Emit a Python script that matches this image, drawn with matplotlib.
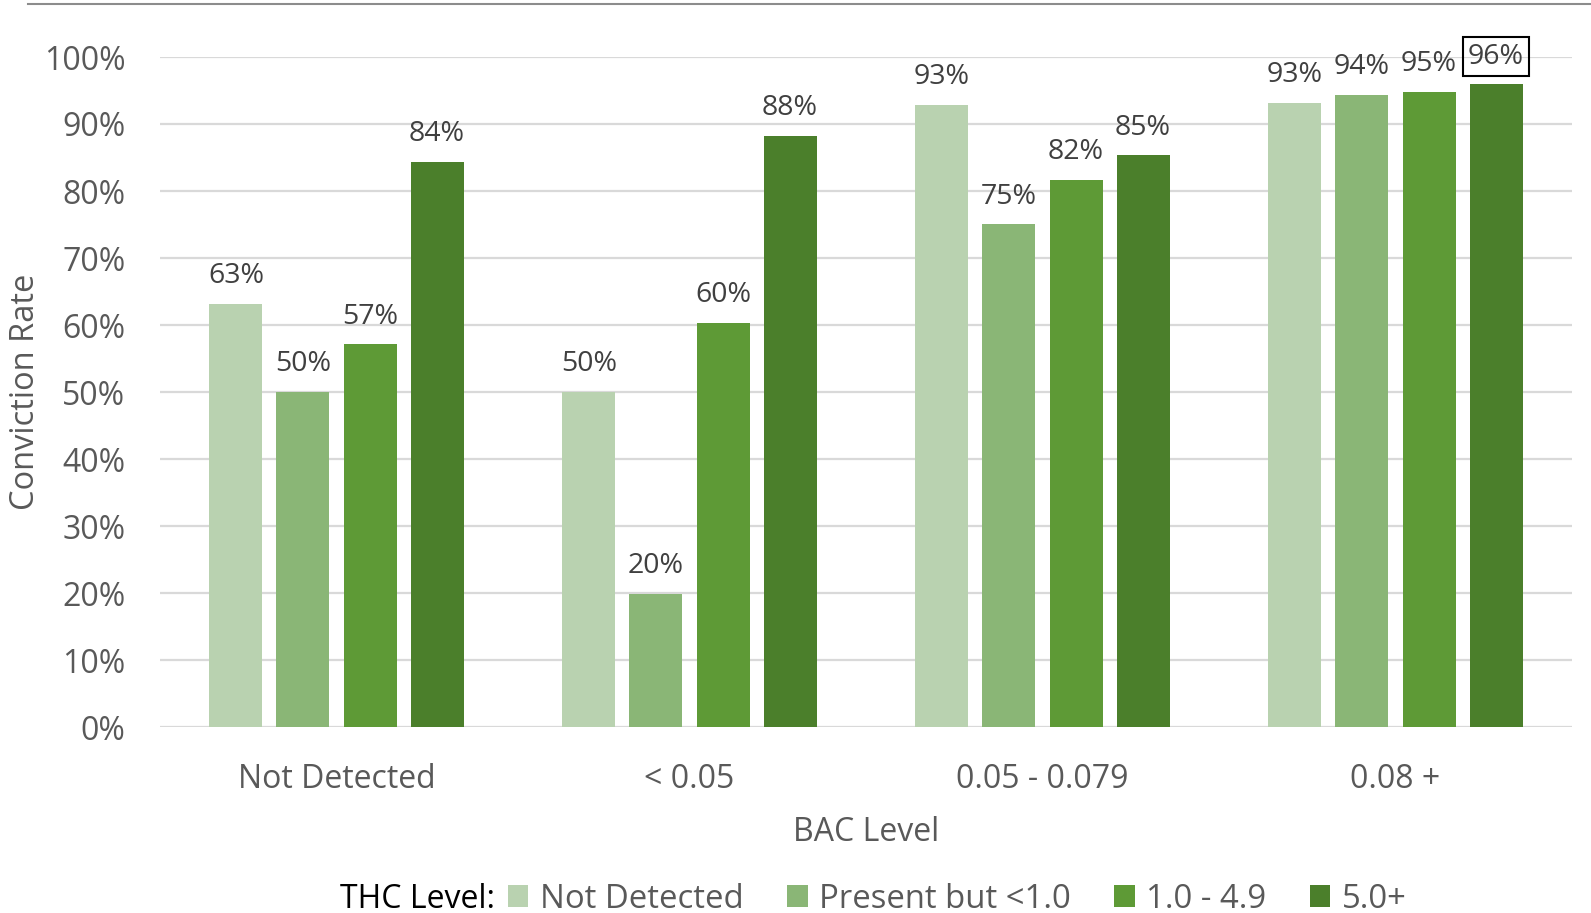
import matplotlib
matplotlib.use("Agg")
import matplotlib.pyplot as plt
from matplotlib.lines import Line2D
from matplotlib.patches import Patch
import numpy as np

plt.rcParams['font.family'] = ['Open Sans', 'DejaVu Sans']

bac_levels = ["Not Detected", "< 0.05", "0.05 - 0.079", "0.08 +"]
thc_levels = ["Not Detected", "Present but <1.0", "1.0 - 4.9", "5.0+"]

# conviction rate (%) by BAC level, one list per THC level
thc_not_detected = [63.1, 50.0, 92.9, 93.2]
thc_present_lt1 = [50.0, 19.9, 75.0, 94.4]
thc_1_to_4_9 = [57.1, 60.3, 81.7, 94.8]
thc_5_plus = [84.3, 88.2, 85.3, 95.9]

yticks = [0, 10, 20, 30, 40, 50, 60, 70, 80, 90, 100]
colors = ["#B9D2B0", "#8AB676", "#5E9A36", "#4B7F2B"]

series = [thc_not_detected, thc_present_lt1, thc_1_to_4_9, thc_5_plus]

W, H = 1591, 913
fig = plt.figure(figsize=(W / 100, H / 100), dpi=100)
ax = fig.add_axes([160 / W, 1 - 727 / H, (1572 - 160) / W, (727 - 57) / H])

x = np.arange(len(bac_levels))
step = 0.19
width = 0.15
offsets = (np.arange(4) - 1.5) * step

for i, (vals, col) in enumerate(zip(series, colors)):
    bars = ax.bar(x + offsets[i], vals, width=width, color=col, zorder=3)
    for j, (b, v) in enumerate(zip(bars, vals)):
        boxed = (i == 3 and j == 3)
        ax.annotate(f"{v:.0f}%", (b.get_x() + b.get_width() / 2, v),
                    xytext=(0, 10), textcoords="offset points",
                    ha="center", va="bottom", fontsize=20.5, color="#404040",
                    annotation_clip=False, zorder=4,
                    bbox=dict(boxstyle="square,pad=0.18", fc="none", ec="black", lw=1.5) if boxed else None)

ax.set_xlim(-0.5, 3.5)
ax.set_ylim(0, 100)
ax.set_yticks(yticks)
ax.set_yticklabels([f"{t}%" for t in yticks])
ax.set_xticks(x)
ax.set_xticklabels(bac_levels)
ax.grid(axis="y", color="#D9D9D9", linewidth=1.6, zorder=0)
ax.set_axisbelow(True)
for s in ax.spines.values():
    s.set_visible(False)
ax.tick_params(axis="both", length=0, labelsize=23, labelcolor="#595959")
ax.tick_params(axis="y", pad=25)
ax.tick_params(axis="x", pad=26)

ax.set_xlabel("BAC Level", fontsize=23, color="#595959", labelpad=14)
fig.text(26 / W, 1 - 392 / H, "Conviction Rate", fontsize=23.5, color="#595959",
         rotation=90, ha="center", va="center")

# thin rule across the top of the chart
fig.add_artist(Line2D([28 / W, 1.0], [1 - 4.5 / H] * 2, color="#8C8C8C", lw=1.5))

# legend
fig.text(340 / W, 1 - 899 / H, "THC Level:", fontsize=23, color="black", va="center", ha="left")
handles = [Patch(facecolor=c, edgecolor="none") for c in colors]
leg = fig.legend(handles, thc_levels, loc="center left", bbox_to_anchor=(508 / W, 1 - 899 / H),
                 ncol=4, frameon=False, fontsize=23.7, handlelength=0.62, handleheight=0.62,
                 handletextpad=0.35, columnspacing=1.32, borderaxespad=0, borderpad=0)
for t in leg.get_texts():
    t.set_color("#595959")

fig.savefig("out.png", dpi=100)
